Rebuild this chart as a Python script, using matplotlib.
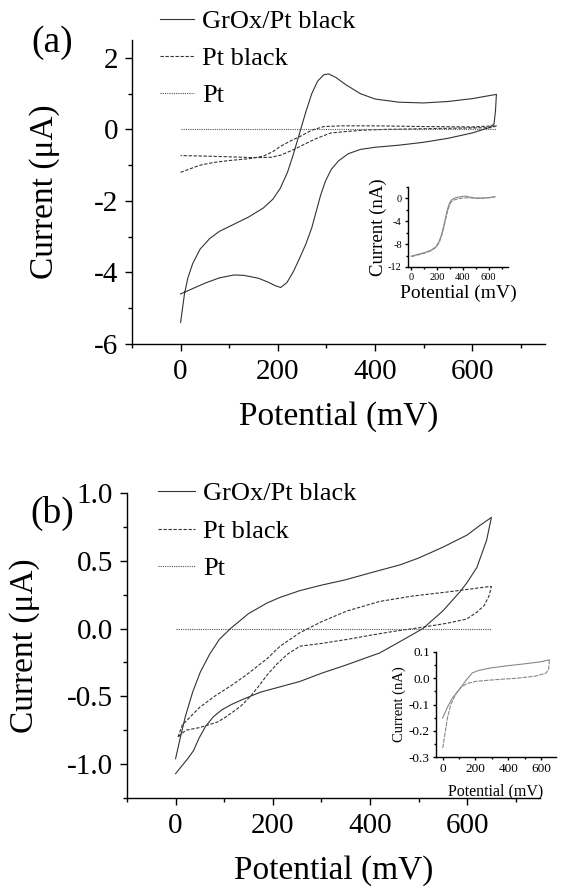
import numpy as np
import matplotlib
matplotlib.use("Agg")
import matplotlib.pyplot as plt
from matplotlib.ticker import MultipleLocator, FormatStrFormatter

plt.rcParams['font.family'] = ['Liberation Serif', 'DejaVu Serif']
plt.rcParams['axes.unicode_minus'] = False

# ---- panel (a) data ----
grox_a_x = [0, 3, 8, 15, 25, 40, 60, 80, 110, 140, 170, 190, 205, 220, 232, 245, 258, 270, 282, 295, 305, 320, 340,
            370, 400, 450, 500, 550, 600, 650,
            648, 645, 635, 600, 550, 500, 450, 400, 370, 345, 325, 310, 298, 288, 279, 270, 258, 245, 232, 219,
            206, 195, 180, 160, 130, 110, 80, 50, 25, 0]
grox_a_y = [-5.4, -5.1, -4.6, -4.15, -3.75, -3.35, -3.05, -2.85, -2.65, -2.45, -2.2, -1.95, -1.65, -1.2, -0.7, -0.1,
            0.5, 1.0, 1.35, 1.53, 1.55, 1.45, 1.25, 1.0, 0.85, 0.76, 0.74, 0.78, 0.86, 0.98,
            0.5, 0.15, 0.05, -0.1, -0.25, -0.36, -0.44, -0.5, -0.56, -0.68, -0.88, -1.12, -1.45, -1.85, -2.3, -2.75,
            -3.2, -3.6, -3.98, -4.28, -4.42, -4.37, -4.27, -4.16, -4.08, -4.07, -4.15, -4.3, -4.45, -4.6]

ptb_a_x = [0, 20, 40, 70, 100, 140, 170, 190, 206, 225, 247, 270, 295, 330, 400, 500, 600, 650,
           640, 600, 500, 420, 377, 340, 309, 280, 260, 247, 230, 206, 186, 150, 110, 60, 0]
ptb_a_y = [-1.2, -1.1, -1.0, -0.92, -0.87, -0.82, -0.75, -0.62, -0.47, -0.33, -0.19, -0.02, 0.08, 0.1, 0.1, 0.08,
           0.07, 0.1,
           0.05, 0.04, 0.02, 0.0, -0.02, -0.06, -0.1, -0.25, -0.38, -0.47, -0.58, -0.72, -0.78, -0.79, -0.77,
           -0.75, -0.73]

pt_a_x = [0, 100, 200, 300, 400, 500, 600, 650]
pt_a_y = [0, 0, 0, 0, 0, 0, 0, 0]

ins_a_x = [0, 50, 100, 150, 190, 215, 235, 250, 265, 280, 295, 310, 340, 380, 420, 460, 500, 560, 620, 650]
ins_a_y1 = [-10.1, -9.8, -9.5, -9.1, -8.5, -7.6, -6.3, -5.0, -3.5, -2.0, -0.9, -0.3, 0.1, 0.3, 0.4, 0.2, 0.05,
            0.05, 0.2, 0.3]
ins_a_y2 = [-10.2, -9.9, -9.6, -9.2, -8.6, -7.8, -6.6, -5.3, -3.8, -2.4, -1.3, -0.6, -0.2, 0.0, 0.1, 0.1, 0.05,
            0.05, 0.15, 0.3]

# ---- panel (b) data ----
grox_b_x = [0, 10, 20, 35, 51, 70, 90, 113, 150, 189, 215, 256, 300, 350, 400, 462, 500, 550, 600, 626, 646, 650,
            640, 620, 600, 585, 550, 509, 460, 420, 350, 300, 256, 215, 174, 140, 115, 95, 78, 62, 48, 37, 25, 0]
grox_b_y = [-0.96, -0.8, -0.65, -0.47, -0.32, -0.19, -0.08, 0.0, 0.11, 0.19, 0.23, 0.28, 0.32, 0.36, 0.41, 0.47,
            0.52, 0.6, 0.69, 0.76, 0.81, 0.82,
            0.65, 0.45, 0.34, 0.27, 0.13, 0.0, -0.1, -0.18, -0.27, -0.33, -0.39, -0.43, -0.47, -0.52, -0.56,
            -0.6, -0.65, -0.72, -0.81, -0.9, -0.96, -1.07]

ptb_b_x = [5, 14, 50, 80, 119, 150, 189, 215, 256, 300, 353, 420, 488, 560, 646, 650,
           645, 635, 620, 599, 560, 509, 450, 400, 353, 300, 256, 230, 209, 189, 170, 154, 135, 120, 100, 86, 50,
           21, 5]
ptb_b_y = [-0.8, -0.71, -0.58, -0.5, -0.41, -0.33, -0.22, -0.13, -0.03, 0.05, 0.13, 0.2, 0.24, 0.27, 0.31, 0.31,
           0.24, 0.17, 0.12, 0.07, 0.04, 0.01, -0.02, -0.05, -0.08, -0.11, -0.13, -0.19, -0.26, -0.34, -0.43,
           -0.5, -0.57, -0.61, -0.66, -0.69, -0.73, -0.75, -0.8]

pt_b_x = [0, 100, 200, 300, 400, 500, 600, 650]
pt_b_y = [0, 0, 0, 0, 0, 0, 0, 0]

ins_b_x1 = [0, 30, 60, 100, 140, 180, 220, 300, 400, 500, 600, 650]
ins_b_y1 = [-0.152, -0.11, -0.075, -0.045, -0.01, 0.02, 0.03, 0.04, 0.048, 0.055, 0.063, 0.07]
ins_b_x2 = [650, 645, 630, 565, 450, 330, 200, 150, 110, 80, 50, 30, 15, 5, 0]
ins_b_y2 = [0.07, 0.035, 0.02, 0.008, 0.0, -0.005, -0.012, -0.02, -0.035, -0.06, -0.1, -0.15, -0.21, -0.25, -0.27]

labels = ['GrOx/Pt black', 'Pt black', 'Pt']
lc = '#333333'
W, H = 561, 890


def style(ax, major, minor, fs, tl=5):
    ax.spines['top'].set_visible(False)
    ax.spines['right'].set_visible(False)
    for s in ('left', 'bottom'):
        ax.spines[s].set_linewidth(1.0)
    ax.tick_params(which='major', length=tl, width=1.0, labelsize=fs, direction='out')
    ax.tick_params(which='minor', length=tl * 0.6, width=1.0, direction='out')
    ax.xaxis.set_major_locator(MultipleLocator(major[0]))
    ax.xaxis.set_minor_locator(MultipleLocator(minor[0]))
    ax.yaxis.set_major_locator(MultipleLocator(major[1]))
    ax.yaxis.set_minor_locator(MultipleLocator(minor[1]))


def box(l, r, t, b):
    return [l / W, 1 - b / H, (r - l) / W, (b - t) / H]


fig = plt.figure(figsize=(W / 100, H / 100), dpi=100)

# panel (a)
ax1 = fig.add_axes(box(132, 545, 40, 344))
h1, = ax1.plot(grox_a_x, grox_a_y, color=lc, lw=0.8, ls='-')
h2, = ax1.plot(ptb_a_x, ptb_a_y, color=lc, lw=0.8, ls=(0, (3, 1.5)))
h3, = ax1.plot(pt_a_x, pt_a_y, color='#555555', lw=0.8, ls=(0, (1, 1)))
ax1.set_xlim(-100, 750)
ax1.set_ylim(-6, 2.5)
style(ax1, (200, 2), (100, 1), 21)
ax1.tick_params(axis='x', pad=5.5)
ax1.tick_params(axis='y', pad=5)
ax1.set_yticks([-6, -4, -2, 0, 2])
ax1.set_xlabel('Potential (mV)', fontsize=24, labelpad=12)
ax1.set_ylabel('Current (μA)', fontsize=24)
ax1.yaxis.set_label_coords(-0.175, 0.5)
ax1.legend([h1, h2, h3], labels, loc='upper left', bbox_to_anchor=(160 / W, 1 - 10 / H),
           bbox_transform=fig.transFigure, frameon=False, fontsize=19, handlelength=1.3,
           handletextpad=0.3, labelspacing=0.5, borderpad=0, borderaxespad=0)
fig.text(52 / W, 1 - 43 / H, '(a)', fontsize=27, ha='center', va='center')

ia = fig.add_axes(box(408, 508, 187, 267))
ia.plot(ins_a_x, ins_a_y1, color='#888888', lw=0.8)
ia.plot(ins_a_x, ins_a_y2, color='#888888', lw=0.8, ls=(0, (4, 1)))
ia.set_xlim(-25, 750)
ia.set_ylim(-12, 2)
style(ia, (200, 4), (100, 2), 7.5, tl=2.5)
ia.tick_params(pad=2)
ia.set_yticks([-12, -8, -4, 0])
ia.set_xlabel('Potential (mV)', fontsize=14, labelpad=2)
ia.set_ylabel('Current (nA)', fontsize=13.5, labelpad=1)

# panel (b)
ax2 = fig.add_axes(box(127, 540, 493, 798))
g1, = ax2.plot(grox_b_x, grox_b_y, color=lc, lw=0.8, ls='-')
g2, = ax2.plot(ptb_b_x, ptb_b_y, color=lc, lw=0.8, ls=(0, (3, 1.5)))
g3, = ax2.plot(pt_b_x, pt_b_y, color='#555555', lw=0.8, ls=(0, (1, 1)))
ax2.set_xlim(-100, 750)
ax2.set_ylim(-1.25, 1.0)
style(ax2, (200, 0.5), (100, 0.25), 21)
ax2.tick_params(axis='x', pad=5.5)
ax2.tick_params(axis='y', pad=5)
ax2.set_yticks([-1.0, -0.5, 0.0, 0.5, 1.0])
ax2.yaxis.set_major_formatter(FormatStrFormatter('%.1f'))
ax2.set_xlabel('Potential (mV)', fontsize=24, labelpad=12)
ax2.set_ylabel('Current (μA)', fontsize=24)
ax2.yaxis.set_label_coords(-0.21, 0.5)
ax2.legend([g1, g2, g3], labels, loc='upper left', bbox_to_anchor=(158 / W, 1 - 482 / H),
           bbox_transform=fig.transFigure, frameon=False, fontsize=19, handlelength=1.4,
           handletextpad=0.3, labelspacing=0.53, borderpad=0, borderaxespad=0)
fig.text(52 / W, 1 - 513 / H, '(b)', fontsize=27, ha='center', va='center')

ib = fig.add_axes(box(436, 556, 652, 757))
ib.plot(ins_b_x1, ins_b_y1, color='#888888', lw=0.8)
ib.plot(ins_b_x2, ins_b_y2, color='#888888', lw=0.8, ls=(0, (4, 1)))
ib.set_xlim(-40, 690)
ib.set_ylim(-0.3, 0.1)
style(ib, (200, 0.1), (100, 0.05), 9.5, tl=2.5)
ib.tick_params(pad=2)
ib.yaxis.set_major_formatter(FormatStrFormatter('%.1f'))
ib.set_xlabel('Potential (mV)', fontsize=11.5, labelpad=6)
ib.set_ylabel('Current (nA)', fontsize=10.5, labelpad=2)

fig.savefig('out.png', dpi=100)
